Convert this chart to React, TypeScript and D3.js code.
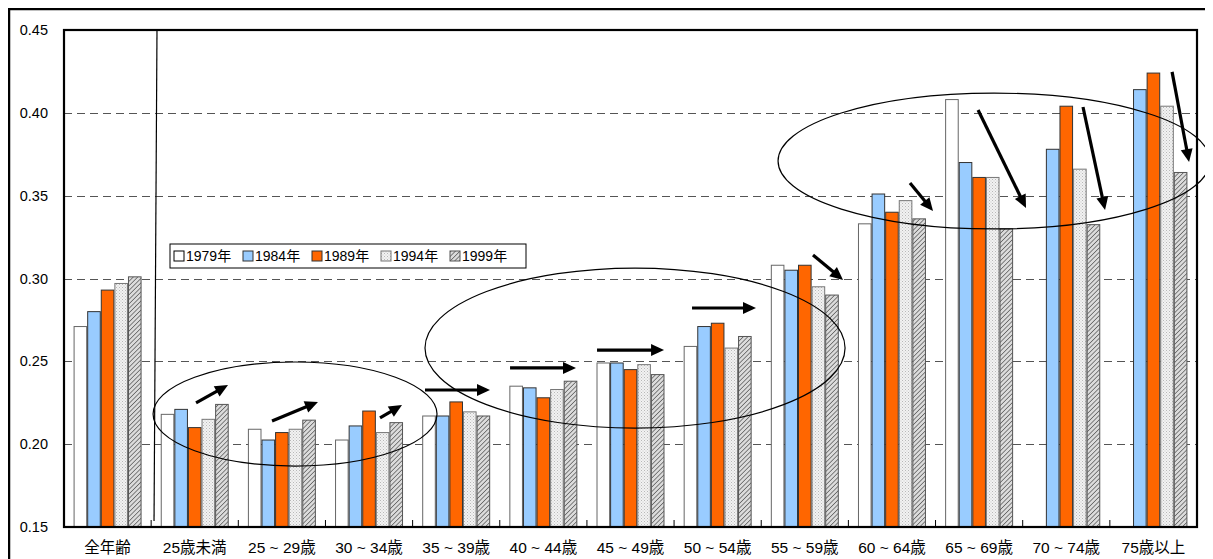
import React from 'react';
import * as d3 from 'd3';

const categories = ['全年齢', '25歳未満', '25 ~ 29歳', '30 ~ 34歳', '35 ~ 39歳', '40 ~ 44歳', '45 ~ 49歳', '50 ~ 54歳', '55 ~ 59歳', '60 ~ 64歳', '65 ~ 69歳', '70 ~ 74歳', '75歳以上'];
const years = ['1979年', '1984年', '1989年', '1994年', '1999年'];
const s1979 = [0.271, 0.218, 0.209, 0.2025, 0.217, 0.235, 0.249, 0.259, 0.308, 0.333, 0.408, null, null];
const s1984 = [0.280, 0.221, 0.2025, 0.211, 0.217, 0.234, 0.249, 0.271, 0.305, 0.351, 0.370, 0.378, 0.414];
const s1989 = [0.293, 0.210, 0.207, 0.220, 0.2255, 0.228, 0.245, 0.273, 0.308, 0.340, 0.361, 0.404, 0.424];
const s1994 = [0.297, 0.215, 0.209, 0.207, 0.2195, 0.233, 0.248, 0.258, 0.295, 0.347, 0.361, 0.366, 0.404];
const s1999 = [0.301, 0.224, 0.2145, 0.213, 0.217, 0.238, 0.242, 0.265, 0.290, 0.336, 0.330, 0.3325, 0.364];
const series = [s1979, s1984, s1989, s1994, s1999];
const yTicks = [0.15, 0.20, 0.25, 0.30, 0.35, 0.40, 0.45];
const gridTicks = [0.20, 0.25, 0.30, 0.35, 0.40];

// annotations in (category position, value) units
const separator = { c1: 1.067, v1: 0.45, c2: 1.033, v2: 0.1536 };
const ellipses = [
  { c: 2.651, v: 0.2182, rc: 1.629, rv: 0.0314 },
  { c: 6.552, v: 0.258, rc: 2.41, rv: 0.0483 },
  { c: 10.671, v: 0.3709, rc: 2.478, rv: 0.041 },
];
const arrows = [
  { c1: 1.515, v1: 0.2249, c2: 1.882, v2: 0.2357 },
  { c1: 2.387, v1: 0.2140, c2: 2.914, v2: 0.2255 },
  { c1: 3.626, v1: 0.2158, c2: 3.878, v2: 0.2237 },
  { c1: 4.142, v1: 0.2327, c2: 4.888, v2: 0.2327 },
  { c1: 5.118, v1: 0.2460, c2: 5.875, v2: 0.2460 },
  { c1: 6.116, v1: 0.2568, c2: 6.885, v2: 0.2568 },
  { c1: 7.206, v1: 0.2822, c2: 7.940, v2: 0.2822 },
  { c1: 8.594, v1: 0.3142, c2: 8.939, v2: 0.2991 },
  { c1: 9.707, v1: 0.3577, c2: 9.971, v2: 0.3407 },
  { c1: 10.488, v1: 0.4017, c2: 11.038, v2: 0.3426 },
  { c1: 11.692, v1: 0.4035, c2: 11.945, v2: 0.3413 },
  { c1: 12.714, v1: 0.4247, c2: 12.909, v2: 0.3703 },
];

const W = 1205, H = 551;
const L = 56, R = 1189, T = 22, B = 519;
const fills = ['#ffffff', '#99ccff', '#ff6600', 'url(#dots)', 'url(#hatch)'];
const strokes = ['#666', '#333', '#333', '#777', '#555'];
const FONT = '"Liberation Sans", Arial, "Noto Sans CJK JP", sans-serif';

export default function App() {
  const x = d3.scaleBand<string>().domain(categories).range([L, R]).paddingInner(0.22).paddingOuter(0.11);
  const xs = d3.scaleBand<string>().domain(years).range([0, x.bandwidth()]).padding(0);
  const y = d3.scaleLinear().domain([0.15, 0.45]).range([B, T]);
  const xc = d3.scaleLinear().domain([0, categories.length]).range([L, R]);

  const arrowEls = arrows.map((a, i) => {
    const x1 = xc(a.c1), y1 = y(a.v1), x2 = xc(a.c2), y2 = y(a.v2);
    const dx = x2 - x1, dy = y2 - y1;
    const len = Math.hypot(dx, dy);
    const ux = dx / len, uy = dy / len;
    const hl = 13, hw = 6;
    const bx = x2 - ux * hl, by = y2 - uy * hl;
    const pts = [[x2, y2], [bx - uy * hw, by + ux * hw], [bx + uy * hw, by - ux * hw]];
    return (
      <g key={i}>
        <line x1={x1} y1={y1} x2={x2 - ux * 10} y2={y2 - uy * 10} stroke="#000" strokeWidth={3.2} />
        <polygon points={pts.map(p => p.join(',')).join(' ')} fill="#000" />
      </g>
    );
  });

  const legendX = 165, legendY = 236;
  const legendStep = 69;

  return (
    <svg width={W} height={H} style={{ display: 'block' }} fontFamily={FONT}>
      <defs>
        <pattern id="dots" width="3" height="3" patternUnits="userSpaceOnUse">
          <rect width="3" height="3" fill="#f2f2f2" />
          <rect x="0" y="0" width="1" height="1" fill="#b8b8b8" />
          <rect x="1.5" y="1.5" width="1" height="1" fill="#c8c8c8" />
        </pattern>
        <pattern id="hatch" width="3.2" height="3.2" patternUnits="userSpaceOnUse" patternTransform="rotate(45)">
          <rect width="3.2" height="3.2" fill="#dcdcdc" />
          <line x1="0" y1="0" x2="0" y2="3.2" stroke="#666" strokeWidth="1.6" />
        </pattern>
      </defs>
      <rect x={0} y={0} width={W} height={H} fill="#fff" />
      <rect x={1} y={1} width={W + 20} height={H + 20} fill="none" stroke="#000" strokeWidth={2.5} />

      {gridTicks.map(t => (
        <line key={t} x1={L} x2={R} y1={Math.round(y(t)) + 0.5} y2={Math.round(y(t)) + 0.5} stroke="#555" strokeDasharray="8,5" strokeWidth={1} />
      ))}

      {categories.map((c, ci) => (
        <g key={c}>
          {series.map((s, si) => {
            const v = s[ci];
            if (v == null) return null;
            const bx = (x(c) as number) + (xs(years[si]) as number);
            return (
              <rect key={si} x={bx + 0.5} y={y(v)} width={xs.bandwidth() - 1} height={B - y(v)} fill={fills[si]} stroke={strokes[si]} strokeWidth={1} />
            );
          })}
        </g>
      ))}

      {d3.range(1, categories.length).map(k => (
        <line key={k} x1={xc(k)} x2={xc(k)} y1={B} y2={B - 7} stroke="#000" strokeWidth={1} />
      ))}

      <line x1={xc(separator.c1)} y1={y(separator.v1)} x2={xc(separator.c2)} y2={y(separator.v2)} stroke="#000" strokeWidth={1.2} />

      <rect x={L} y={T} width={R - L} height={B - T} fill="none" stroke="#000" strokeWidth={2.2} />

      {yTicks.map(t => (
        <text key={t} x={40} y={y(t)} dy="0.35em" textAnchor="end" fontSize={14.5} fill="#000">{t.toFixed(2)}</text>
      ))}

      {categories.map(c => (
        <text key={c} x={(x(c) as number) + x.bandwidth() / 2} y={545} textAnchor="middle" fontSize={15.5} fill="#000">{c}</text>
      ))}

      {ellipses.map((e, i) => (
        <ellipse key={i} cx={xc(e.c)} cy={y(e.v)} rx={xc(e.rc) - xc(0)} ry={y(0.15) - y(0.15 + e.rv)} fill="none" stroke="#000" strokeWidth={1.2} />
      ))}

      {arrowEls}

      <g>
        <rect x={legendX - 3} y={legendY} width={356} height={24} fill="#fff" stroke="#000" strokeWidth={1} />
        {years.map((yr, i) => (
          <g key={yr} transform={`translate(${legendX + 1 + i * legendStep},${legendY + 12})`}>
            <rect x={0} y={-5} width={10} height={10} fill={fills[i]} stroke={i === 0 ? '#000' : strokes[i]} strokeWidth={1} />
            <text x={12} y={0} dy="0.36em" fontSize={14} fill="#000">{yr}</text>
          </g>
        ))}
      </g>
    </svg>
  );
}
